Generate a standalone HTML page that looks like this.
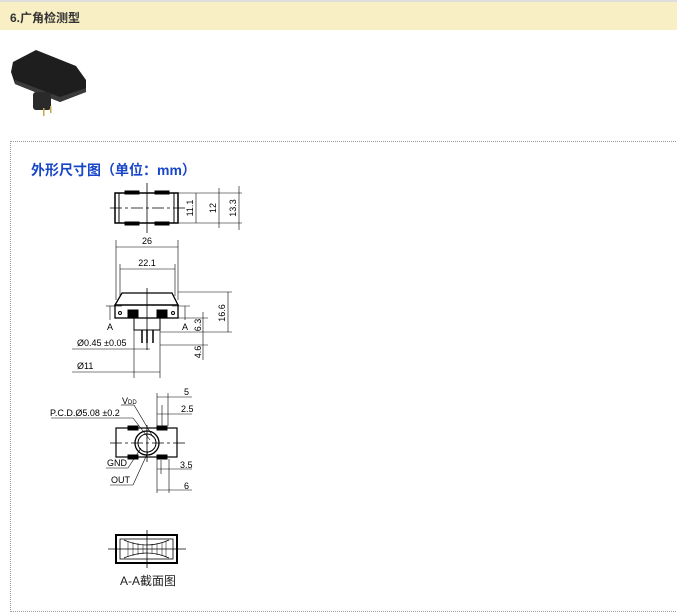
<!DOCTYPE html>
<html><head><meta charset="utf-8"><style>
body{margin:0;width:677px;height:613px;background:#fff;overflow:hidden;font-family:"Liberation Sans","Noto Sans CJK SC",sans-serif;}
.hdr{position:absolute;left:0;top:0;width:677px;height:30px;background:#f8f0c4;border-top:2px solid #ddd;box-sizing:border-box;}
.hdr span{position:absolute;left:10px;top:7px;font-size:12px;font-weight:bold;color:#333;}
.box{position:absolute;left:10px;top:141px;width:680px;height:469px;border:1px dotted #999;}
.ttl{position:absolute;left:31px;top:160px;font-size:14px;font-weight:bold;color:#1846c8;}
svg{position:absolute;left:0;top:0}
</style></head><body>
<div class="hdr"><span>6.广角检测型</span></div>
<div class="box"></div>
<div class="ttl">外形尺寸图（单位：mm）</div>
<svg width="677" height="613" font-family="Liberation Sans, sans-serif" font-size="9" fill="none" stroke="#000" stroke-width="1">
<!-- photo -->
<g stroke="none">
<polygon points="13,62 36,50 76,66 86,80 86,92 60,102 15,84 11,72" fill="#1e1e1e"/>
<polygon points="15,84 60,102 86,92 86,88 60,97 15,80" fill="#3a3a3a"/>
<rect x="33" y="92" width="18" height="18" rx="3" fill="#2a2a2a"/>
<rect x="43" y="108" width="1.5" height="8" fill="#c9a54a"/>
<rect x="50" y="106" width="1.5" height="7" fill="#c9a54a"/>
</g>
<!-- top view -->
<rect x="115" y="193" width="63" height="30" stroke-width="1.5"/>
<line x1="119" y1="193" x2="119" y2="223"/><line x1="174" y1="193" x2="174" y2="223"/>
<rect x="125" y="191" width="14" height="3" fill="#000"/><rect x="155" y="191" width="14" height="3" fill="#000"/>
<rect x="125" y="222" width="14" height="3" fill="#000"/><rect x="155" y="222" width="14" height="3" fill="#000"/>
<line x1="147" y1="183" x2="147" y2="233" stroke-width="0.8"/>
<line x1="110" y1="208" x2="185" y2="208" stroke-width="0.8" stroke-dasharray="12,3,3,3"/>
<line x1="178" y1="193" x2="242" y2="193" stroke-width="0.6"/><line x1="178" y1="223" x2="242" y2="223" stroke-width="0.6"/>
<line x1="196" y1="193" x2="196" y2="223" stroke-width="0.6"/><line x1="219" y1="188" x2="219" y2="228" stroke-width="0.6"/><line x1="239" y1="186" x2="239" y2="230" stroke-width="0.6"/>
<g fill="#000" stroke="none"><text transform="translate(193,208) rotate(-90)" text-anchor="middle" font-size="9">11.1</text>
<text transform="translate(216,208) rotate(-90)" text-anchor="middle">12</text>
<text transform="translate(236,208) rotate(-90)" text-anchor="middle">13.3</text></g>
<!-- front view -->
<line x1="116" y1="247" x2="178" y2="247" stroke-width="0.6"/><line x1="116" y1="240" x2="116" y2="300" stroke-width="0.6"/><line x1="178" y1="240" x2="178" y2="300" stroke-width="0.6"/>
<line x1="120" y1="269" x2="175" y2="269" stroke-width="0.6"/><line x1="120" y1="264" x2="120" y2="296" stroke-width="0.6"/><line x1="175" y1="264" x2="175" y2="296" stroke-width="0.6"/>
<g fill="#000" stroke="none"><text x="147" y="244" text-anchor="middle">26</text><text x="147" y="266" text-anchor="middle">22.1</text></g>
<path d="M122,293 L172,293 L178,305 L115,305 Z" stroke-width="1.3"/>
<rect x="115" y="305" width="63" height="13" stroke-width="1.3"/>
<rect x="128" y="310" width="10" height="8" fill="#000"/><rect x="157" y="310" width="10" height="8" fill="#000"/>
<circle cx="120" cy="313" r="1.5"/><circle cx="173" cy="313" r="1.5"/>
<rect x="134" y="318" width="26" height="12"/>
<line x1="142" y1="330" x2="142" y2="343" stroke-width="1.5"/><line x1="147" y1="330" x2="147" y2="343" stroke-width="1.5"/><line x1="153" y1="330" x2="153" y2="343" stroke-width="1.5"/>
<line x1="147" y1="288" x2="147" y2="350" stroke-width="0.8"/>
<line x1="106" y1="306" x2="122" y2="306" stroke-width="0.6"/><line x1="172" y1="306" x2="190" y2="306" stroke-width="0.6"/>
<line x1="110" y1="306" x2="110" y2="320" stroke-width="0.6"/><line x1="185" y1="306" x2="185" y2="320" stroke-width="0.6"/>
<g fill="#000" stroke="none"><text x="107" y="330">A</text><text x="182" y="330">A</text>
<text transform="translate(225,313) rotate(-90)" text-anchor="middle">16.6</text>
<text transform="translate(201,325) rotate(-90)" text-anchor="middle">6.3</text>
<text transform="translate(201,352) rotate(-90)" text-anchor="middle">4.6</text>
<text x="77" y="346">Ø0.45 ±0.05</text><text x="77" y="369">Ø11</text></g>
<line x1="178" y1="292" x2="232" y2="292" stroke-width="0.6"/><line x1="228" y1="292" x2="228" y2="332" stroke-width="0.6"/>
<line x1="160" y1="332" x2="232" y2="332" stroke-width="0.6"/>
<line x1="178" y1="318" x2="208" y2="318" stroke-width="0.6"/><line x1="203" y1="312" x2="203" y2="360" stroke-width="0.6"/>
<line x1="160" y1="345" x2="208" y2="345" stroke-width="0.6"/>
<line x1="72" y1="349" x2="150" y2="349" stroke-width="0.6"/>
<line x1="72" y1="372" x2="160" y2="372" stroke-width="0.6"/><line x1="134" y1="330" x2="134" y2="378" stroke-width="0.6"/><line x1="160" y1="330" x2="160" y2="378" stroke-width="0.6"/>
<!-- bottom view -->
<rect x="116" y="428" width="61" height="29" stroke-width="1.2"/>
<rect x="128" y="426" width="10" height="4" fill="#000"/><rect x="157" y="426" width="10" height="4" fill="#000"/>
<rect x="128" y="455" width="10" height="4" fill="#000"/><rect x="157" y="455" width="10" height="4" fill="#000"/>
<circle cx="147" cy="443" r="12" stroke-width="1.3"/><circle cx="147" cy="443" r="9"/>
<line x1="110" y1="443" x2="188" y2="443" stroke-width="0.8" stroke-dasharray="12,3,3,3"/>
<line x1="147" y1="425" x2="147" y2="462" stroke-width="0.8"/>
<line x1="157" y1="393" x2="157" y2="426" stroke-width="0.6"/><line x1="168" y1="393" x2="168" y2="426" stroke-width="0.6"/><line x1="162" y1="405" x2="162" y2="426" stroke-width="0.6"/>
<line x1="157" y1="397" x2="192" y2="397" stroke-width="0.6"/><line x1="157" y1="414" x2="192" y2="414" stroke-width="0.6"/>
<line x1="157" y1="459" x2="157" y2="493" stroke-width="0.6"/><line x1="169" y1="459" x2="169" y2="493" stroke-width="0.6"/><line x1="161" y1="460" x2="161" y2="474" stroke-width="0.6"/>
<line x1="157" y1="469" x2="192" y2="469" stroke-width="0.6"/><line x1="157" y1="490" x2="192" y2="490" stroke-width="0.6"/>
<line x1="51" y1="418" x2="133" y2="418" stroke-width="0.6"/><line x1="133" y1="418" x2="150" y2="440" stroke-width="0.6"/>
<line x1="121" y1="405" x2="134" y2="405" stroke-width="0.6"/><line x1="134" y1="405" x2="153" y2="437" stroke-width="0.6"/>
<line x1="106" y1="468" x2="128" y2="468" stroke-width="0.6"/><line x1="128" y1="468" x2="141" y2="448" stroke-width="0.6"/>
<line x1="110" y1="485" x2="133" y2="485" stroke-width="0.6"/><line x1="133" y1="485" x2="148" y2="452" stroke-width="0.6"/>
<g fill="#000" stroke="none"><text x="184" y="395">5</text><text x="181" y="412">2.5</text><text x="180" y="468">3.5</text><text x="184" y="489">6</text>
<text x="122" y="404">V<tspan font-size="6">DD</tspan></text><text x="50" y="416">P.C.D.Ø5.08 ±0.2</text>
<text x="107" y="466">GND</text><text x="111" y="483">OUT</text></g>
<!-- section -->
<rect x="116" y="535" width="61" height="28" stroke-width="2"/>
<rect x="120" y="539" width="53" height="20" stroke-width="0.8"/>
<path d="M124,540 Q147,550 169,540 M124,558 Q147,548 169,558" stroke-width="0.7"/>
<g stroke-width="0.5"><line x1="128" y1="541" x2="128" y2="557"/><line x1="133" y1="542" x2="133" y2="556"/><line x1="138" y1="543" x2="138" y2="555"/><line x1="143" y1="544" x2="143" y2="554"/><line x1="152" y1="544" x2="152" y2="554"/><line x1="157" y1="543" x2="157" y2="555"/><line x1="162" y1="542" x2="162" y2="556"/><line x1="166" y1="541" x2="166" y2="557"/></g>
<line x1="108" y1="549" x2="186" y2="549" stroke-width="0.8"/><line x1="147" y1="530" x2="147" y2="568" stroke-width="0.8"/>
<text x="120" y="585" fill="#222" stroke="none" font-size="12" font-family="Liberation Sans, Noto Sans CJK SC, sans-serif">A-A截面图</text>
</svg>
</body></html>
